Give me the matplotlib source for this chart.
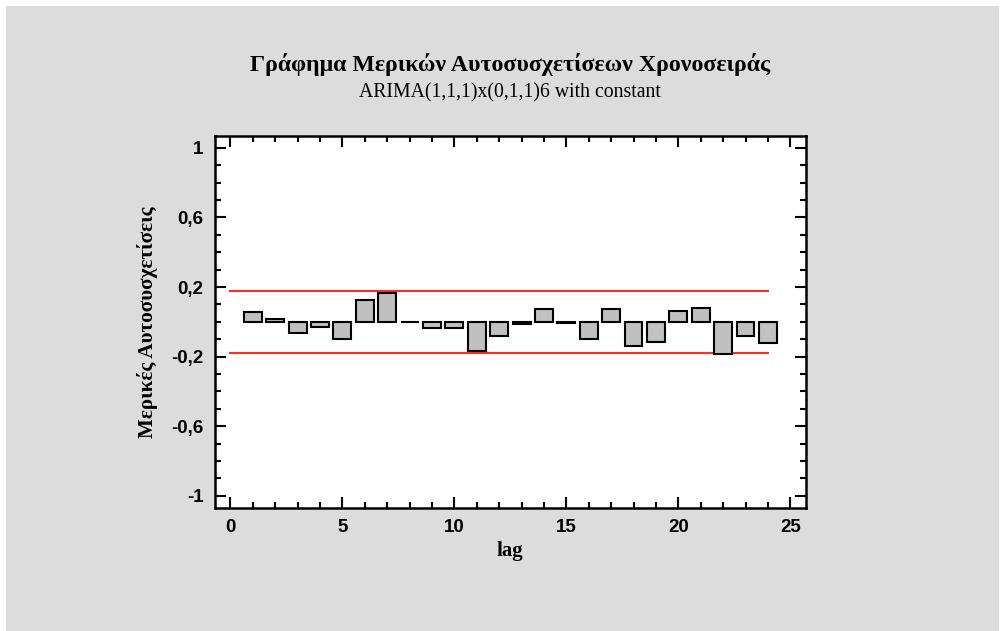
import matplotlib
matplotlib.use("Agg")
import matplotlib.pyplot as plt
from matplotlib.patches import Rectangle
from matplotlib.ticker import MultipleLocator, FixedLocator

lags = list(range(1, 25))
pacf = [0.055, 0.019, -0.063, -0.027, -0.099, 0.126, 0.164, 0.002,
        -0.036, -0.036, -0.170, -0.080, -0.015, 0.073, -0.005, -0.099,
        0.073, -0.136, -0.117, 0.063, 0.082, -0.187, -0.080, -0.122]
limit_upper = 0.18
limit_lower = -0.18
limit_x = [0, 24]
y_ticks = [-1, -0.6, -0.2, 0.2, 0.6, 1]
y_tick_labels = ["-1", "-0,6", "-0,2", "0,2", "0,6", "1"]
x_ticks = [0, 5, 10, 15, 20, 25]

title = "Γράφημα Μερικών Αυτοσυσχετίσεων Χρονοσειράς"
subtitle = "ARIMA(1,1,1)x(0,1,1)6 with constant"
xlabel = "lag"
ylabel = "Μερικές Αυτοσυσχετίσεις"

W, H = 1001, 631
fig = plt.figure(figsize=(W / 100, H / 100), dpi=100, facecolor="white")
fig.patches.append(Rectangle((6 / W, 0), (W - 8) / W, (H - 6) / H,
                             transform=fig.transFigure, facecolor="#DCDCDC",
                             edgecolor="none", zorder=-10))

ax = fig.add_axes([214.7 / W, 1 - 508 / H, (806 - 214.7) / W, (508 - 135.7) / H])
ax.set_facecolor("white")

ax.bar(lags, pacf, width=0.8, color="#C0C0C0", edgecolor="black", linewidth=1.5, zorder=3)
ax.plot(limit_x, [limit_upper, limit_upper], color="#FF2A2A", linewidth=1.5, zorder=2)
ax.plot(limit_x, [limit_lower, limit_lower], color="#FF2A2A", linewidth=1.5, zorder=2)

ax.set_xlim(-0.7, 25.7)
ax.set_ylim(-1.07, 1.07)

ax.yaxis.set_major_locator(FixedLocator(y_ticks))
ax.set_yticklabels(y_tick_labels)
ax.yaxis.set_minor_locator(MultipleLocator(0.1))
ax.xaxis.set_major_locator(FixedLocator(x_ticks))
ax.xaxis.set_minor_locator(MultipleLocator(1))

for s in ax.spines.values():
    s.set_linewidth(1.8)
    s.set_color("black")

ax.tick_params(which="both", direction="in", top=True, right=True, width=1.5, colors="black")
ax.tick_params(which="major", length=8, pad=8)
ax.tick_params(which="minor", length=4)
for lab in ax.get_xticklabels() + ax.get_yticklabels():
    lab.set_fontfamily("Liberation Sans")
    lab.set_fontweight("bold")
    lab.set_fontsize(13.5)

cx = (214.7 + 806) / 2 / W
fig.text(cx, 1 - 65 / H, title, ha="center", va="center", fontfamily="Liberation Serif",
         fontweight="bold", fontsize=17.2)
fig.text(cx, 1 - 93 / H, subtitle, ha="center", va="center", fontfamily="Liberation Serif",
         fontsize=14.2)
fig.text(cx, 1 - 551 / H, xlabel, ha="center", va="center", fontfamily="Liberation Serif",
         fontweight="bold", fontsize=15)
fig.text(148 / W, 1 - 322 / H, ylabel, ha="center", va="center", rotation=90,
         fontfamily="Liberation Serif", fontweight="bold", fontsize=15.2)

fig.savefig("out.png", dpi=100, facecolor="white")
